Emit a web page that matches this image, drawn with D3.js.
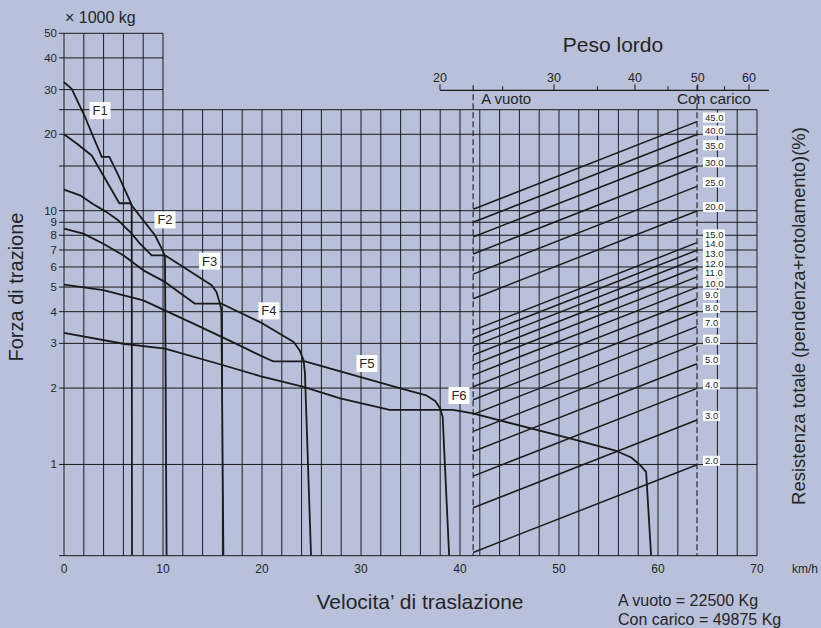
<!DOCTYPE html>
<html>
<head>
<meta charset="utf-8">
<script src="https://cdn.jsdelivr.net/npm/d3@7"></script>
<style>
  html, body { margin: 0; padding: 0; background: #b8c0da; }
  svg { display: block; }
  text { font-family: "Liberation Sans", Arial, Helvetica, sans-serif; fill: #262626; }
</style>
</head>
<body>
<div id="chart"></div>
<script>
// Traction curves per gear: [speed km/h, force x1000 kg]
const gear1 = [[0, 32.1], [0.78, 30.2], [2.12, 23.4], [3.81, 16.3], [4.58, 16.3], [5.48, 13.8], [6.67, 10.9], [6.84, 10.5], [6.87, 0.44]];
const gear2 = [[0, 20.0], [1.28, 18.4], [2.8, 16.5], [5.59, 10.7], [6.67, 10.7], [8.01, 9.16], [9.19, 8.0], [9.87, 7.09], [10.1, 6.77], [10.2, 6.57], [10.36, 0.44]];
const gear3 = [[0, 12.1], [1.62, 11.5], [2.96, 10.6], [4.31, 9.87], [5.48, 9.16], [6.84, 8.12], [7.68, 7.41], [8.86, 6.67], [10.2, 6.67], [14.92, 5.08], [15.4, 4.78], [15.76, 4.3], [15.9, 4.05], [16.1, 0.44]];
const gear4 = [[0, 8.5], [1.95, 8.12], [3.97, 7.41], [5.99, 6.67], [8.01, 5.82], [10.2, 5.24], [13.23, 4.3], [15.93, 4.3], [19.8, 3.64], [23.2, 3.04], [23.8, 2.82], [24.2, 2.57], [24.34, 2.28], [24.95, 0.44]];
const gear5 = [[0, 5.11], [3.97, 4.86], [8.01, 4.43], [13.4, 3.54], [18.1, 2.9], [19.8, 2.69], [21.1, 2.55], [24.34, 2.55], [33.9, 2.0], [36.6, 1.87], [37.5, 1.78], [38.0, 1.66], [38.25, 1.54], [38.9, 0.44]];
const gear6 = [[0, 3.3], [5.99, 2.99], [10.2, 2.86], [16.1, 2.46], [19.8, 2.23], [24.2, 2.02], [27.9, 1.82], [32.9, 1.64], [39.3, 1.64], [41.3, 1.59], [51.1, 1.266], [55.8, 1.13], [57.3, 1.065], [58.2, 0.994], [58.8, 0.935], [59.3, 0.44]];

const gearNames = ['F1', 'F2', 'F3', 'F4', 'F5', 'F6'];
// where each gear name sits, [km/h, x1000 kg]
const gearLabelAt = [[3.64, 24.8], [10.2, 9.2], [14.7, 6.33], [20.7, 4.03], [30.6, 2.5], [39.9, 1.87]];

// total resistance lines (%), drawn between empty and loaded weight (t)
const resistance = [2, 3, 4, 5, 6, 7, 8, 9, 10, 11, 12, 13, 14, 15, 20, 25, 30, 35, 40, 45];
const emptyWeight = 22.5;
const loadedWeight = 49.875;

// axes
const forceTicks = [50, 40, 30, 20, 10, 9, 8, 7, 6, 5, 4, 3, 2, 1];
const forceGridLow = [25, 20, 15, 10, 9, 8, 7, 6, 5, 4, 3, 2, 1];
const forceGridHigh = [50, 40, 30];
const speedTicks = [0, 10, 20, 30, 40, 50, 60, 70];
const speedGrid = d3.range(0, 71, 2);
const weightTicks = [20, 30, 40, 50, 60];
const weightMinor = [25, 35, 45, 55];

class TractionChart {
    constructor() {
        this.width = 821;
        this.height = 628;
        this.ink = '#1c1c1c';

        this.x = d3.scaleLinear().domain([0, 70]).range([64, 757]);
        this.y = d3.scaleLog().domain([0.437, 50]).range([555.7, 33.3]);
        this.w = d3.scaleLog().domain([20, 60]).range([440, 749]);
        this.weightAxisY = 90.3;

        this.svg = d3.select('#chart').append('svg')
            .attr('width', this.width)
            .attr('height', this.height);

        this.drawGrid();
        this.drawWeightAxis();
        this.drawResistance();
        this.drawCurves();
        this.drawAxes();
    }

    drawGrid() {
        const g = this.svg.append('g')
            .attr('stroke', this.ink)
            .attr('stroke-width', 1);
        const x = this.x, y = this.y;
        const xLoaded = this.w(loadedWeight);

        // verticals: the first block reaches 50, the rest stop at 25
        g.selectAll('line.v')
            .data(speedGrid.filter(v => Math.abs(x(v) - xLoaded) > 2))
            .enter().append('line')
            .attr('x1', d => x(d)).attr('x2', d => x(d))
            .attr('y1', y.range()[0])
            .attr('y2', d => d <= 10 ? y(50) : y(25));

        g.selectAll('line.hl')
            .data(forceGridLow)
            .enter().append('line')
            .attr('x1', x(0) - 5).attr('x2', x(70))
            .attr('y1', d => y(d)).attr('y2', d => y(d));

        g.selectAll('line.hh')
            .data(forceGridHigh)
            .enter().append('line')
            .attr('x1', x(0) - 5).attr('x2', x(10))
            .attr('y1', d => y(d)).attr('y2', d => y(d));

        // bottom axis line with its small tick
        g.append('line')
            .attr('x1', x(0) - 5).attr('x2', x(70))
            .attr('y1', y.range()[0]).attr('y2', y.range()[0]);
    }

    drawWeightAxis() {
        const w = this.w, ay = this.weightAxisY;
        const g = this.svg.append('g');

        g.append('line')
            .attr('x1', w(20)).attr('x2', w(60) + 20)
            .attr('y1', ay).attr('y2', ay)
            .attr('stroke', this.ink).attr('stroke-width', 1.2);

        g.selectAll('line.maj').data(weightTicks).enter().append('line')
            .attr('x1', d => w(d)).attr('x2', d => w(d))
            .attr('y1', ay - 6).attr('y2', ay)
            .attr('stroke', this.ink);

        g.selectAll('line.min').data(weightMinor).enter().append('line')
            .attr('x1', d => w(d)).attr('x2', d => w(d))
            .attr('y1', ay - 4).attr('y2', ay)
            .attr('stroke', this.ink);

        g.selectAll('text.wt').data(weightTicks).enter().append('text')
            .attr('x', d => w(d)).attr('y', ay - 8)
            .attr('text-anchor', 'middle')
            .style('font-size', '12.5px')
            .text(d => d);

        g.append('text')
            .attr('x', 613).attr('y', 52)
            .attr('text-anchor', 'middle')
            .style('font-size', '21px')
            .text('Peso lordo');

        // empty / loaded markers
        [emptyWeight, loadedWeight].forEach(v => {
            g.append('line')
                .attr('x1', w(v)).attr('x2', w(v))
                .attr('y1', ay - 5).attr('y2', this.y.range()[0])
                .attr('stroke', this.ink)
                .attr('stroke-width', 1.1)
                .attr('stroke-dasharray', '6,3');
        });

        g.append('text')
            .attr('x', w(emptyWeight) + 8).attr('y', ay + 14)
            .style('font-size', '15px')
            .text('A vuoto');

        g.append('text')
            .attr('x', w(60) + 2).attr('y', ay + 14)
            .attr('text-anchor', 'end')
            .style('font-size', '15.5px')
            .text('Con carico');
    }

    drawResistance() {
        const w = this.w, y = this.y;
        const g = this.svg.append('g');

        g.selectAll('line.res').data(resistance).enter().append('line')
            .attr('x1', w(emptyWeight))
            .attr('y1', d => y(emptyWeight * d / 100))
            .attr('x2', w(loadedWeight))
            .attr('y2', d => y(loadedWeight * d / 100))
            .attr('stroke', this.ink)
            .attr('stroke-width', 1.5);

        // labels sit just above the line ends, pushed apart where they crowd
        const gap = 9.6;
        const labelY = resistance.map(d => y(loadedWeight * d / 100) - 4);
        for (let i = 1; i < labelY.length; i++) {
            labelY[i] = Math.min(labelY[i], labelY[i - 1] - gap);
        }

        const labels = g.selectAll('g.rl').data(resistance).enter().append('g')
            .attr('transform', (d, i) => `translate(${w(loadedWeight) + 7},${labelY[i]})`);

        labels.append('rect')
            .attr('x', -1).attr('y', -5)
            .attr('width', d => d >= 10 ? 22 : 17)
            .attr('height', 10)
            .attr('fill', '#fff');

        labels.append('text')
            .attr('x', 1).attr('y', 3.4)
            .style('font-size', '9.5px')
            .text(d => d.toFixed(1));
    }

    drawCurves() {
        const x = this.x, y = this.y;
        const line = d3.line().x(d => x(d[0])).y(d => y(d[1]));
        const gears = [gear1, gear2, gear3, gear4, gear5, gear6];

        this.svg.append('g').selectAll('path').data(gears).enter().append('path')
            .attr('d', line)
            .attr('fill', 'none')
            .attr('stroke', '#1a1a1a')
            .attr('stroke-width', 1.8)
            .attr('stroke-linejoin', 'round');

        const tags = this.svg.append('g').selectAll('g').data(gearLabelAt).enter().append('g')
            .attr('transform', d => `translate(${x(d[0])},${y(d[1])})`);

        tags.append('rect')
            .attr('x', -10.5).attr('y', -8.5)
            .attr('width', 21).attr('height', 17)
            .attr('fill', '#fff');

        tags.append('text')
            .attr('text-anchor', 'middle')
            .attr('y', 4.6)
            .style('font-size', '13px')
            .text((d, i) => gearNames[i]);
    }

    drawAxes() {
        const x = this.x, y = this.y;
        const g = this.svg.append('g');

        g.selectAll('text.ft').data(forceTicks).enter().append('text')
            .attr('x', x(0) - 7).attr('y', d => y(d) + 4)
            .attr('text-anchor', 'end')
            .style('font-size', '11.5px')
            .text(d => d);

        g.selectAll('text.st').data(speedTicks).enter().append('text')
            .attr('x', d => x(d)).attr('y', 573)
            .attr('text-anchor', 'middle')
            .style('font-size', '12px')
            .text(d => d);

        g.append('text')
            .attr('x', 792).attr('y', 573)
            .style('font-size', '12px')
            .text('km/h');

        g.append('text')
            .attr('x', 65).attr('y', 23)
            .style('font-size', '16px')
            .text('\u00d7 1000 kg');

        g.append('text')
            .attr('transform', 'translate(23,287) rotate(-90)')
            .attr('text-anchor', 'middle')
            .style('font-size', '20px')
            .text('Forza di trazione');

        g.append('text')
            .attr('transform', 'translate(805,316) rotate(-90)')
            .attr('text-anchor', 'middle')
            .style('font-size', '18.5px')
            .text('Resistenza totale (pendenza+rotolamento)(%)');

        g.append('text')
            .attr('x', 420).attr('y', 609)
            .attr('text-anchor', 'middle')
            .style('font-size', '21px')
            .text('Velocita\u2019 di traslazione');

        g.append('text')
            .attr('x', 618).attr('y', 606)
            .style('font-size', '16px')
            .text('A vuoto = 22500 Kg');

        g.append('text')
            .attr('x', 618).attr('y', 625)
            .style('font-size', '16px')
            .text('Con carico = 49875 Kg');
    }
}

new TractionChart();
</script>
</body>
</html>
